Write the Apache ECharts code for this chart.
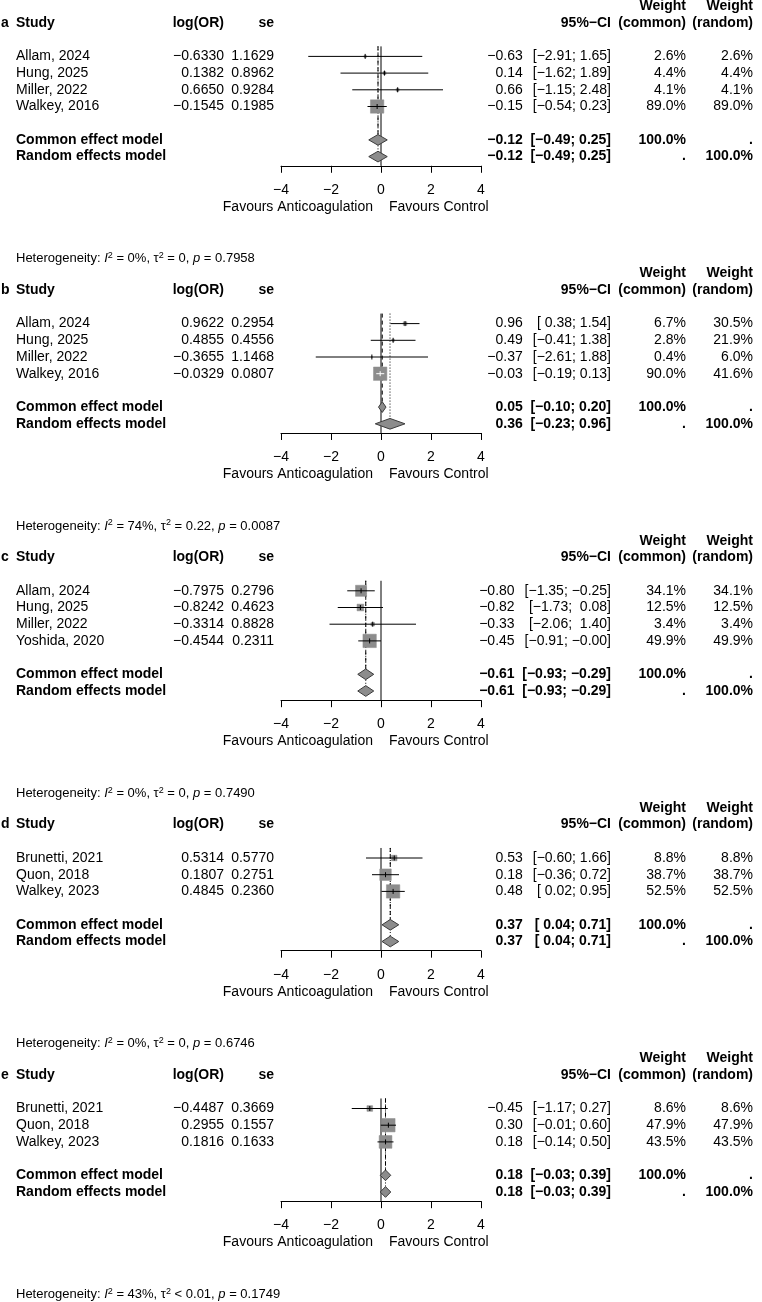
<!DOCTYPE html>
<html>
<head>
<meta charset="utf-8">
<script src="https://cdn.jsdelivr.net/npm/echarts@6.0.0/dist/echarts.min.js"></script>
<style>
html,body{margin:0;padding:0;background:#fff;}
#chart{width:762px;height:1302px;}
</style>
</head>
<body>
<div id="chart"></div>
<script>
// ---------------- data ----------------
const panelLabels = ['a', 'b', 'c', 'd', 'e'];
const studies = [
  ['Allam, 2024', 'Hung, 2025', 'Miller, 2022', 'Walkey, 2016'],
  ['Allam, 2024', 'Hung, 2025', 'Miller, 2022', 'Walkey, 2016'],
  ['Allam, 2024', 'Hung, 2025', 'Miller, 2022', 'Yoshida, 2020'],
  ['Brunetti, 2021', 'Quon, 2018', 'Walkey, 2023'],
  ['Brunetti, 2021', 'Quon, 2018', 'Walkey, 2023']
];
const logOR = [
  [-0.6330, 0.1382, 0.6650, -0.1545],
  [0.9622, 0.4855, -0.3655, -0.0329],
  [-0.7975, -0.8242, -0.3314, -0.4544],
  [0.5314, 0.1807, 0.4845],
  [-0.4487, 0.2955, 0.1816]
];
const seLog = [
  [1.1629, 0.8962, 0.9284, 0.1985],
  [0.2954, 0.4556, 1.1468, 0.0807],
  [0.2796, 0.4623, 0.8828, 0.2311],
  [0.5770, 0.2751, 0.2360],
  [0.3669, 0.1557, 0.1633]
];
const estimate = [
  [-0.63, 0.14, 0.66, -0.15],
  [0.96, 0.49, -0.37, -0.03],
  [-0.80, -0.82, -0.33, -0.45],
  [0.53, 0.18, 0.48],
  [-0.45, 0.30, 0.18]
];
const ciLower = [
  [-2.91, -1.62, -1.15, -0.54],
  [0.38, -0.41, -2.61, -0.19],
  [-1.35, -1.73, -2.06, -0.91],
  [-0.60, -0.36, 0.02],
  [-1.17, -0.01, -0.14]
];
const ciUpper = [
  [1.65, 1.89, 2.48, 0.23],
  [1.54, 1.38, 1.88, 0.13],
  [-0.25, 0.08, 1.40, -0.001],
  [1.66, 0.72, 0.95],
  [0.27, 0.60, 0.50]
];
const weightCommon = [
  [2.6, 4.4, 4.1, 89.0],
  [6.7, 2.8, 0.4, 90.0],
  [34.1, 12.5, 3.4, 49.9],
  [8.8, 38.7, 52.5],
  [8.6, 47.9, 43.5]
];
const weightRandom = [
  [2.6, 4.4, 4.1, 89.0],
  [30.5, 21.9, 6.0, 41.6],
  [34.1, 12.5, 3.4, 49.9],
  [8.8, 38.7, 52.5],
  [8.6, 47.9, 43.5]
];
const commonEst = [-0.12, 0.05, -0.61, 0.37, 0.18];
const commonLower = [-0.49, -0.10, -0.93, 0.04, -0.03];
const commonUpper = [0.25, 0.20, -0.29, 0.71, 0.39];
const randomEst = [-0.12, 0.36, -0.61, 0.37, 0.18];
const randomLower = [-0.49, -0.23, -0.93, 0.04, -0.03];
const randomUpper = [0.25, 0.96, -0.29, 0.71, 0.39];
const hetI2 = ['0%', '74%', '0%', '0%', '43%'];
const hetTau2 = ['= 0', '= 0.22', '= 0', '= 0', '< 0.01'];
const hetP = ['0.7958', '0.0087', '0.7490', '0.6746', '0.1749'];
const xTicks = [-4, -2, 0, 2, 4];
const labelLeft = 'Favours Anticoagulation';
const labelRight = 'Favours Control';
const commonLabel = 'Common effect model';
const randomLabel = 'Random effects model';

// ---------------- layout ----------------
const FONT = '"Liberation Sans", Arial, Helvetica, sans-serif';
const FS = 14;
const ROW = 16.7;
const TOP0 = 23;
const X_LEFT = 281, X_WIDTH = 200;
const COL = {
  letter: 1, study: 16, logor: 224, se: 274, ci: 611, wc: 686, wr: 753,
  favL: 373, favR: 389
};
const EST_GAP = 10;
const SQ_MAX = 13.4;
const GREY = '#8c8c8c';

const measureCtx = document.createElement('canvas').getContext('2d');
function textWidth(s, bold) {
  measureCtx.font = (bold ? 'bold ' : '') + FS + 'px ' + FONT;
  return measureCtx.measureText(s).width;
}

function mf(v, d) {
  const neg = v < 0 || Object.is(v, -0);
  return (neg ? '\u2212' : '') + Math.abs(v).toFixed(d);
}

const panelTop = [];
{
  let h = TOP0;
  for (let k = 0; k < studies.length; k++) {
    panelTop.push(h);
    h += (studies[k].length + 12) * ROW;
  }
}

const grids = [], xAxes = [], yAxes = [], series = [], gfx = [];

function txt(x, y, text, opts) {
  opts = opts || {};
  gfx.push({
    type: 'text', x: x, y: y, silent: true,
    style: Object.assign({
      text: text, fill: '#000', fontSize: opts.size || FS, fontFamily: FONT,
      fontWeight: opts.bold ? 'bold' : 'normal',
      textAlign: opts.align || 'left', textVerticalAlign: 'middle'
    }, opts.extra || {})
  });
}

for (let k = 0; k < studies.length; k++) {
  const n = studies[k].length;
  const H = panelTop[k];
  const yRow = r => H + r * ROW;
  const rowCommon = n + 3, rowRandom = n + 4;
  const yTopRow = 1.4, yAxisRow = n + 4.55;

  grids.push({ left: X_LEFT, width: X_WIDTH, top: yRow(yTopRow), height: (yAxisRow - yTopRow) * ROW });
  xAxes.push({
    type: 'value', gridIndex: k, min: -4, max: 4, interval: 2, position: 'bottom',
    axisLine: { onZero: false, lineStyle: { color: '#000', width: 1 } },
    axisTick: { show: true, length: 7, lineStyle: { color: '#000', width: 1 } },
    axisLabel: {
      color: '#000', fontSize: FS, fontFamily: FONT, margin: 17,
      formatter: v => (xTicks.indexOf(v) >= 0 ? (v < 0 ? '\u2212' + Math.abs(v) : String(v)) : '')
    },
    splitLine: { show: false }
  });
  yAxes.push({ type: 'value', gridIndex: k, min: yTopRow, max: yAxisRow, inverse: true, show: false });

  // reference lines: null effect (solid), common (dashed), random (dotted)
  series.push({
    type: 'custom', xAxisIndex: k, yAxisIndex: k, clip: false, silent: true, z: 1,
    data: [[0, yTopRow, yAxisRow, 0], [commonEst[k], yTopRow, rowCommon, 1], [randomEst[k], yTopRow, rowRandom, 2]],
    renderItem: function (params, api) {
      const x = api.value(0);
      const p1 = api.coord([x, api.value(1)]);
      const p2 = api.coord([x, api.value(2)]);
      const s = api.value(3);
      return {
        type: 'line',
        shape: { x1: p1[0], y1: p1[1], x2: p2[0], y2: p2[1] },
        style: { stroke: '#000', lineWidth: 1, lineDash: s === 0 ? null : (s === 1 ? [4, 3] : [1, 2]) }
      };
    }
  });

  // studies
  const wmax = Math.max.apply(null, weightCommon[k]);
  const sData = [];
  for (let i = 0; i < n; i++) {
    sData.push([logOR[k][i], 2 + i, ciLower[k][i], ciUpper[k][i], SQ_MAX * Math.sqrt(weightCommon[k][i] / wmax)]);
  }
  series.push({
    type: 'custom', xAxisIndex: k, yAxisIndex: k, clip: false, silent: true, z: 2,
    data: sData,
    renderItem: function (params, api) {
      const row = api.value(1);
      const c = api.coord([api.value(0), row]);
      const l = api.coord([api.value(2), row]);
      const h = api.coord([api.value(3), row]);
      const side = api.value(4);
      const inside = (h[0] - l[0]) < side;
      const col = inside ? '#fff' : '#000';
      return {
        type: 'group',
        children: [
          { type: 'rect', shape: { x: c[0] - side / 2, y: c[1] - side / 2, width: side, height: side },
            style: { fill: GREY, stroke: GREY, lineWidth: 0.5 } },
          { type: 'line', shape: { x1: l[0], y1: c[1], x2: h[0], y2: c[1] }, style: { stroke: col, lineWidth: 1 } },
          { type: 'line', shape: { x1: c[0], y1: c[1] - 2.5, x2: c[0], y2: c[1] + 2.5 }, style: { stroke: col, lineWidth: 1 } }
        ]
      };
    }
  });

  // diamonds
  series.push({
    type: 'custom', xAxisIndex: k, yAxisIndex: k, clip: false, silent: true, z: 3,
    data: [[commonEst[k], rowCommon, commonLower[k], commonUpper[k]], [randomEst[k], rowRandom, randomLower[k], randomUpper[k]]],
    renderItem: function (params, api) {
      const row = api.value(1);
      const half = 0.32;
      const p = [
        api.coord([api.value(2), row]),
        api.coord([api.value(0), row - half]),
        api.coord([api.value(3), row]),
        api.coord([api.value(0), row + half])
      ];
      return { type: 'polygon', shape: { points: p }, style: { fill: GREY, stroke: '#3c3c3c', lineWidth: 1 } };
    }
  });

  // ---------- text ----------
  const anyNegL = ciLower[k].concat([commonLower[k], randomLower[k]]).some(v => v < 0);
  const anyNegU = ciUpper[k].concat([commonUpper[k], randomUpper[k]]).some(v => v < 0);
  const ciStr = (lo, hi) => '[' + (lo >= 0 && anyNegL ? ' ' : '') + mf(lo, 2) + '; ' + (hi >= 0 && anyNegU ? ' ' : '') + mf(hi, 2) + ']';

  let ciW = 0;
  for (let i = 0; i < n; i++) ciW = Math.max(ciW, textWidth(ciStr(ciLower[k][i], ciUpper[k][i]), false));
  const estRight = COL.ci - ciW - EST_GAP;

  txt(COL.wc, yRow(-1), 'Weight', { bold: true, align: 'right' });
  txt(COL.wr, yRow(-1), 'Weight', { bold: true, align: 'right' });
  txt(COL.letter, yRow(0), panelLabels[k], { bold: true });
  txt(COL.study, yRow(0), 'Study', { bold: true });
  txt(COL.logor, yRow(0), 'log(OR)', { bold: true, align: 'right' });
  txt(COL.se, yRow(0), 'se', { bold: true, align: 'right' });
  txt(COL.ci, yRow(0), '95%\u2212CI', { bold: true, align: 'right' });
  txt(COL.wc, yRow(0), '(common)', { bold: true, align: 'right' });
  txt(COL.wr, yRow(0), '(random)', { bold: true, align: 'right' });

  for (let i = 0; i < n; i++) {
    const y = yRow(2 + i);
    txt(COL.study, y, studies[k][i]);
    txt(COL.logor, y, mf(logOR[k][i], 4), { align: 'right' });
    txt(COL.se, y, seLog[k][i].toFixed(4), { align: 'right' });
    txt(estRight, y, mf(estimate[k][i], 2), { align: 'right' });
    txt(COL.ci, y, ciStr(ciLower[k][i], ciUpper[k][i]), { align: 'right' });
    txt(COL.wc, y, weightCommon[k][i].toFixed(1) + '%', { align: 'right' });
    txt(COL.wr, y, weightRandom[k][i].toFixed(1) + '%', { align: 'right' });
  }
  let y = yRow(rowCommon);
  txt(COL.study, y, commonLabel, { bold: true });
  txt(estRight, y, mf(commonEst[k], 2), { bold: true, align: 'right' });
  txt(COL.ci, y, ciStr(commonLower[k], commonUpper[k]), { bold: true, align: 'right' });
  txt(COL.wc, y, '100.0%', { bold: true, align: 'right' });
  txt(COL.wr, y, '.', { bold: true, align: 'right' });
  y = yRow(rowRandom);
  txt(COL.study, y, randomLabel, { bold: true });
  txt(estRight, y, mf(randomEst[k], 2), { bold: true, align: 'right' });
  txt(COL.ci, y, ciStr(randomLower[k], randomUpper[k]), { bold: true, align: 'right' });
  txt(COL.wc, y, '.', { bold: true, align: 'right' });
  txt(COL.wr, y, '100.0%', { bold: true, align: 'right' });

  const yAx = yRow(yAxisRow);
  txt(COL.favL, yAx + 41, labelLeft, { align: 'right' });
  txt(COL.favR, yAx + 41, labelRight, { align: 'left' });

  txt(COL.study, yAx + 93,
    'Heterogeneity: {i|I}{s|2} = ' + hetI2[k] + ', \u03c4{s|2} ' + hetTau2[k] + ', {i|p} = ' + hetP[k],
    { size: 13, extra: {
      lineHeight: 15,
      rich: {
        i: { fontStyle: 'italic', fontSize: 13, fontFamily: FONT, lineHeight: 15, fill: '#000' },
        s: { fontSize: 9, fontFamily: FONT, lineHeight: 9, verticalAlign: 'top', fill: '#000' }
      }
    } });
}

const chart = echarts.init(document.getElementById('chart'), null, { renderer: 'canvas' });
chart.setOption({
  backgroundColor: '#fff',
  animation: false,
  grid: grids,
  xAxis: xAxes,
  yAxis: yAxes,
  series: series,
  graphic: { elements: gfx }
});
</script>
</body>
</html>
